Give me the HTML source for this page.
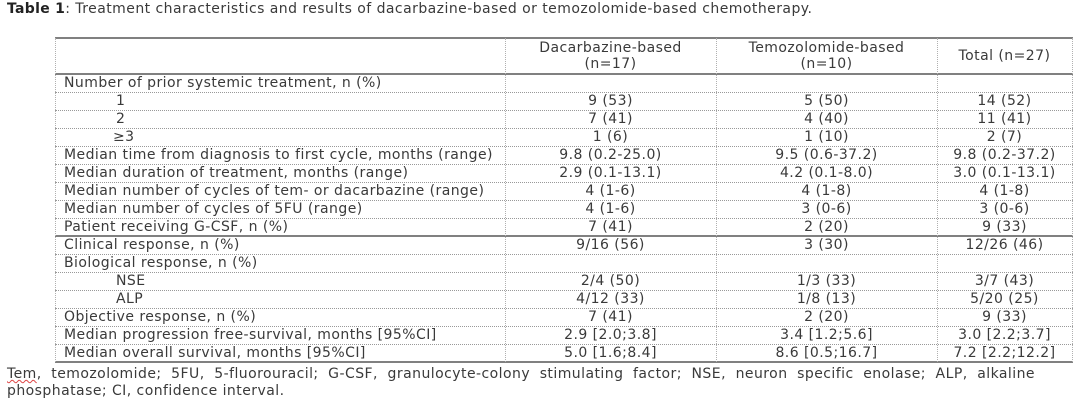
<!DOCTYPE html>
<html><head><meta charset="utf-8">
<style>
html,body{margin:0;padding:0;background:#fff;}
body{width:1080px;height:405px;position:relative;overflow:hidden;font-family:"DejaVu Sans","Liberation Sans",sans-serif;font-size:14px;letter-spacing:0.45px;color:#3a3a3a;}
.title{position:absolute;left:7px;top:0;line-height:19px;white-space:nowrap;}
.title b{color:#222;letter-spacing:0.3px;}
.hl{position:absolute;left:55px;width:1018px;height:0;border-top:1px dotted #999;}
.hk{position:absolute;left:55px;width:1018px;height:2px;background:#808080;}
.vl{position:absolute;top:38px;height:324px;width:0;border-left:1px dotted #b0b0b0;}
.r{position:absolute;left:55px;width:1017px;height:18px;line-height:18px;white-space:nowrap;}
.r span{position:absolute;top:0;}
.c0{left:9px;}
.ci{left:61px;}
.c1{left:450px;width:211px;text-align:center;}
.c2{left:661px;width:221px;text-align:center;}
.c3{left:882px;width:135px;text-align:center;}
.h{position:absolute;top:40px;line-height:16px;text-align:center;white-space:nowrap;}
.f1{position:absolute;left:7px;top:366px;width:1028px;line-height:17px;text-align:justify;text-align-last:justify;white-space:nowrap;}
.f2{position:absolute;left:7px;top:383px;line-height:17px;white-space:nowrap;}
.sq{text-decoration:underline wavy #d44;text-decoration-thickness:1px;}
</style></head><body>
<div class="title"><b>Table 1</b>: Treatment characteristics and results of dacarbazine-based or temozolomide-based chemotherapy.</div>

<div class="hk" style="top:37px"></div>
<div class="hk" style="top:73px"></div>
<div class="hk" style="top:235px"></div>
<div class="hk" style="top:361px"></div>
<div class="hl" style="top:92px"></div>
<div class="hl" style="top:110px"></div>
<div class="hl" style="top:128px"></div>
<div class="hl" style="top:146px"></div>
<div class="hl" style="top:164px"></div>
<div class="hl" style="top:182px"></div>
<div class="hl" style="top:200px"></div>
<div class="hl" style="top:218px"></div>
<div class="hl" style="top:254px"></div>
<div class="hl" style="top:272px"></div>
<div class="hl" style="top:290px"></div>
<div class="hl" style="top:308px"></div>
<div class="hl" style="top:326px"></div>
<div class="hl" style="top:344px"></div>
<div class="vl" style="left:55px"></div>
<div class="vl" style="left:505px"></div>
<div class="vl" style="left:716px"></div>
<div class="vl" style="left:937px"></div>
<div class="vl" style="left:1072px"></div>

<div class="h" style="left:505px;width:211px">Dacarbazine-based<br>(n=17)</div>
<div class="h" style="left:716px;width:221px">Temozolomide-based<br>(n=10)</div>
<div class="h" style="left:937px;width:135px;top:48px">Total (n=27)</div>

<div class="r" style="top:74px"><span class="c0">Number of prior systemic treatment, n (%)</span></div>
<div class="r" style="top:92px"><span class="ci">1</span><span class="c1">9 (53)</span><span class="c2">5 (50)</span><span class="c3">14 (52)</span></div>
<div class="r" style="top:110px"><span class="ci">2</span><span class="c1">7 (41)</span><span class="c2">4 (40)</span><span class="c3">11 (41)</span></div>
<div class="r" style="top:128px"><span class="ci" style="left:58px">≥3</span><span class="c1">1 (6)</span><span class="c2">1 (10)</span><span class="c3">2 (7)</span></div>
<div class="r" style="top:146px"><span class="c0">Median time from diagnosis to first cycle, months (range)</span><span class="c1">9.8 (0.2-25.0)</span><span class="c2">9.5 (0.6-37.2)</span><span class="c3">9.8 (0.2-37.2)</span></div>
<div class="r" style="top:164px"><span class="c0">Median duration of treatment, months (range)</span><span class="c1">2.9 (0.1-13.1)</span><span class="c2">4.2 (0.1-8.0)</span><span class="c3">3.0 (0.1-13.1)</span></div>
<div class="r" style="top:182px"><span class="c0">Median number of cycles of tem- or dacarbazine (range)</span><span class="c1">4 (1-6)</span><span class="c2">4 (1-8)</span><span class="c3">4 (1-8)</span></div>
<div class="r" style="top:200px"><span class="c0">Median number of cycles of 5FU (range)</span><span class="c1">4 (1-6)</span><span class="c2">3 (0-6)</span><span class="c3">3 (0-6)</span></div>
<div class="r" style="top:218px"><span class="c0">Patient receiving G-CSF, n (%)</span><span class="c1">7 (41)</span><span class="c2">2 (20)</span><span class="c3">9 (33)</span></div>
<div class="r" style="top:236px"><span class="c0">Clinical response, n (%)</span><span class="c1">9/16 (56)</span><span class="c2">3 (30)</span><span class="c3">12/26 (46)</span></div>
<div class="r" style="top:254px"><span class="c0">Biological response, n (%)</span></div>
<div class="r" style="top:272px"><span class="ci">NSE</span><span class="c1">2/4 (50)</span><span class="c2">1/3 (33)</span><span class="c3">3/7 (43)</span></div>
<div class="r" style="top:290px"><span class="ci">ALP</span><span class="c1">4/12 (33)</span><span class="c2">1/8 (13)</span><span class="c3">5/20 (25)</span></div>
<div class="r" style="top:308px"><span class="c0">Objective response, n (%)</span><span class="c1">7 (41)</span><span class="c2">2 (20)</span><span class="c3">9 (33)</span></div>
<div class="r" style="top:326px"><span class="c0">Median progression free-survival, months [95%CI]</span><span class="c1">2.9 [2.0;3.8]</span><span class="c2">3.4 [1.2;5.6]</span><span class="c3">3.0 [2.2;3.7]</span></div>
<div class="r" style="top:344px"><span class="c0">Median overall survival, months [95%CI]</span><span class="c1">5.0 [1.6;8.4]</span><span class="c2">8.6 [0.5;16.7]</span><span class="c3">7.2 [2.2;12.2]</span></div>

<div class="f1"><span class="sq">Tem</span>, temozolomide; 5FU, 5-fluorouracil; G-CSF, granulocyte-colony stimulating factor; NSE, neuron specific enolase; ALP, alkaline</div>
<div class="f2">phosphatase; CI, confidence interval.</div>
</body></html>
